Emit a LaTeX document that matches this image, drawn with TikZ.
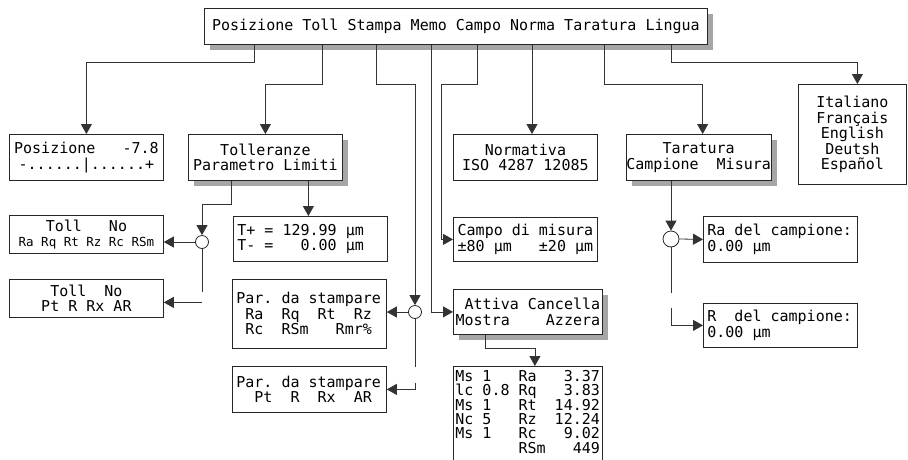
\documentclass[tikz,border=0pt]{standalone}
\usepackage{fontspec}
\setmainfont{DejaVu Sans Mono}
\usetikzlibrary{arrows.meta,positioning,shadows}

\tikzset{
  box/.style={draw=black!85, line width=0.8pt, fill=white, align=center, inner sep=0pt},
  leftbox/.style={box, align=left, inner xsep=4pt},
  shadowed/.style={drop shadow={shadow xshift=6pt, shadow yshift=-6pt, fill=black!35, opacity=1}},
  conn/.style={draw=black!80, line width=0.8pt},
  arr/.style={conn, -{Triangle[length=10pt,width=11pt]}},
  hub/.style={circle, draw=black!85, line width=0.8pt, fill=white, inner sep=0pt, minimum size=13pt},
}
\newcommand\smallrow{\fontsize{12.5}{15.5}\selectfont}
% full-width spaces in ragged nodes, no hyphens
\newcommand\fixsp{\spaceskip=\fontdimen2\font\xspaceskip=\fontdimen2\font\hyphenpenalty=10000\relax}

\begin{document}
\frenchspacing
\begin{tikzpicture}[x=1pt,y=-1pt,font=\fontsize{15}{15.5}\selectfont]
  \useasboundingbox (0,0) rectangle (908,459);
  \clip (0,0) rectangle (908,459);

  % menu bar
  \node[box,shadowed,anchor=north west,minimum width=503,minimum height=36] (menu) at (204,8)
    {Posizione Toll Stampa Memo Campo Norma Taratura Lingua};

  % second row
  \node[box,anchor=north west,minimum width=154,minimum height=46] (posiz) at (9,134)
    {Posizione~~~-7.8\\-......|......+};
  \node[box,shadowed,anchor=north west,minimum width=154,minimum height=46] (toller) at (188,134)
    {Tolleranze\\Parametro Limiti};
  \node[box,anchor=north west,minimum width=144,minimum height=46] (norma) at (453,134)
    {Normativa\\ISO 4287 12085};
  \node[box,shadowed,anchor=north west,minimum width=144,minimum height=46] (tarat) at (626,134)
    {Taratura\\Campione~~Misura};
  \node[box,anchor=north west,minimum width=108,minimum height=100] (lingua) at (798,84)
    {Italiano\\Français\\English\\Deutsh\\Español};

  % tolleranze
  \node[box,anchor=north west,minimum width=154,minimum height=38] (tollR) at (9,215)
    {Toll~~~No\\{\smallrow Ra Rq Rt Rz Rc RSm}};
  \node[box,anchor=north west,minimum width=154,minimum height=38] (tollP) at (9,279)
    {Toll~~No\\Pt R Rx AR};
  \node[leftbox,anchor=north west,text width=146,minimum height=45] (limiti) at (233,216)
    {\fixsp T+~=~129.99~µm\\T-~=~~~0.00~µm};

  % stampa
  \node[leftbox,anchor=north west,text width=146,minimum height=69] (parA) at (232,279)
    {\fixsp Par.~da~stampare\\\mbox{}~Ra~~Rq~~Rt~~Rz\\\mbox{}~Rc~~RSm~~~Rmr\%};
  \node[leftbox,anchor=north west,text width=146,minimum height=46] (parB) at (232,366)
    {\fixsp Par.~da~stampare\\\mbox{}~~Pt~~R~~Rx~~AR};

  % campo, memo
  \node[box,anchor=north west,minimum width=144,minimum height=44] (campo) at (453,217)
    {Campo~di~misura\\±80~µm~~~±20~µm};
  \node[box,shadowed,anchor=north west,minimum width=149,minimum height=45] (attiva) at (453,289)
    {\mbox{}~Attiva~Cancella\\Mostra~~~~Azzera};
  \node[leftbox,anchor=north west,text width=145,inner xsep=2pt,inner ysep=4pt,
        font=\fontsize{15}{14.3}\selectfont] (res) at (453,366)
    {\fixsp Ms~1~~~Ra~~~3.37\\lc~0.8~Rq~~~3.83\\Ms~1~~~Rt~~14.92\\Nc~5~~~Rz~~12.24\\Ms~1~~~Rc~~~9.02\\\mbox{}~~~~~~~RSm~~~449\\~};

  % taratura
  \node[leftbox,anchor=north west,text width=146,minimum height=46] (raC) at (703,216)
    {\fixsp Ra~del~campione:\\0.00~µm};
  \node[leftbox,anchor=north west,text width=146,minimum height=44] (rC) at (703,303)
    {\fixsp R~~del~campione:\\0.00~µm};

  % hubs
  \node[hub] (hubT) at (202,242) {};
  \node[hub] (hubP) at (415,312) {};
  \node[hub,minimum size=16pt] (hubK) at (671,239) {};

  % taps on the menu bar
  \coordinate (mPos) at ([xshift=50pt]menu.south west);
  \coordinate (mToll) at ([xshift=118pt]menu.south west);
  \coordinate (mStampa) at ([xshift=172pt]menu.south west);
  \coordinate (mMemo) at ([xshift=227pt]menu.south west);
  \coordinate (mCampo) at ([xshift=273pt]menu.south west);
  \coordinate (mNorma) at ([xshift=328pt]menu.south west);
  \coordinate (mTar) at ([xshift=400pt]menu.south west);
  \coordinate (mLing) at ([xshift=467pt]menu.south west);

  \draw[arr] (mPos) -- ++(0,18) -| (posiz.north);
  \draw[arr] (mToll) -- ++(0,40) -| (toller.north);
  \draw[arr] (mStampa) -- ++(0,40) -| (hubP.north);
  \draw[arr] (mMemo) |- (attiva.west);
  \draw[arr] (mCampo) -- ++(0,40) -| ([xshift=-12pt]campo.west) -- (campo.west);
  \draw[arr] (mNorma) -- (mNorma |- norma.north);
  \draw[arr] (mTar) -- ++(0,40) -| ([xshift=4pt]tarat.north);
  \draw[arr] (mLing) -- ++(0,18) -| ([xshift=5pt]lingua.north);

  % tolleranze branches
  \draw[arr] ([xshift=-34pt]toller.south) -- ++(0,24) -| (hubT.north);
  \draw[arr] ([xshift=43pt]toller.south) -- ([xshift=43pt]toller.south |- limiti.north);
  \draw[arr] (hubT.west) -- (hubT.west -| tollR.east);
  \draw[conn] (hubT.south) -- ++(0,43);
  \draw[arr] ([yshift=-4pt]hubT |- tollP.east) -- ([yshift=-4pt]tollP.east);

  % stampa branches
  \draw[arr] (hubP.west) -- (hubP.west -| parA.east);
  \draw[conn] (hubP.south) -- ++(0,48);
  \draw[arr] ([yshift=6pt]hubP |- parB.east) |- (parB.east);

  % memo
  \draw[arr] ([xshift=32pt]attiva.south west) -- ++(0,14) -| ([xshift=7pt]res.north);

  % taratura branches
  \draw[arr] (hubK |- tarat.south) -- (hubK.north);
  \draw[arr] (hubK.east) -- (raC.west);
  \draw[conn] (hubK.south) -- ++(0,46);
  \draw[arr] ([yshift=17pt]hubK |- rC.west) |- (rC.west);
\end{tikzpicture}
\end{document}
